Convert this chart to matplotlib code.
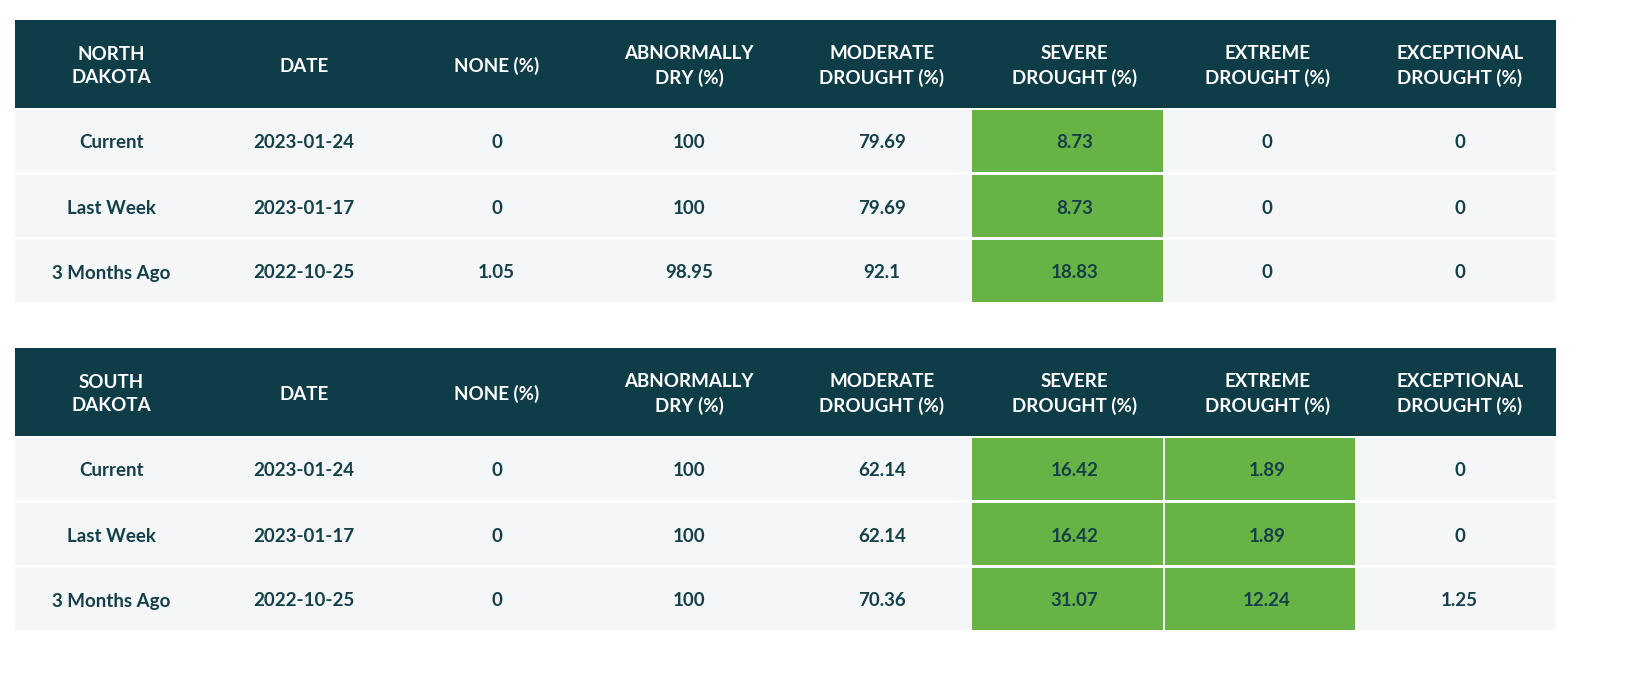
import matplotlib.pyplot as plt
from matplotlib.patches import Rectangle

plt.rcParams['font.family'] = ['Lato', 'DejaVu Sans']

HEADER_BG = "#0f3d47"
ROW_BG = "#f4f6f7"
GREEN = "#68b345"
TEXT = "#15404a"

columns = ["DATE", "NONE (%)", "ABNORMALLY\nDRY (%)", "MODERATE\nDROUGHT (%)",
           "SEVERE\nDROUGHT (%)", "EXTREME\nDROUGHT (%)", "EXCEPTIONAL\nDROUGHT (%)"]
periods = ["Current", "Last Week", "3 Months Ago"]
dates = ["2023-01-24", "2023-01-17", "2022-10-25"]

nd_values = [["0", "100", "79.69", "8.73", "0", "0"],
             ["0", "100", "79.69", "8.73", "0", "0"],
             ["1.05", "98.95", "92.1", "18.83", "0", "0"]]
sd_values = [["0", "100", "62.14", "16.42", "1.89", "0"],
             ["0", "100", "62.14", "16.42", "1.89", "0"],
             ["0", "100", "70.36", "31.07", "12.24", "1.25"]]

nd_green = [5]  # column index of highlighted cells
sd_green = [5, 6]


def draw_table(ax, top, state, values, green_cols):
    """Draw one drought table starting at pixel row top."""
    left, right = 15, 1556
    colw = (right - left) / 8
    ax.add_patch(Rectangle((left, top), right - left, 88, color=HEADER_BG, lw=0))
    heads = [state] + columns
    for i, h in enumerate(heads):
        ax.text(left + colw * (i + 0.5), top + 46, h, color="white", fontsize=13.5,
                fontweight="bold", ha="center", va="center", linespacing=1.4)
    for r in range(3):
        y0 = top + 90 + r * 65
        ax.add_patch(Rectangle((left, y0), right - left, 62, color=ROW_BG, lw=0))
        cells = [periods[r], dates[r]] + values[r]
        for c, val in enumerate(cells):
            if c in green_cols:
                ax.add_patch(Rectangle((left + colw * c - 6, y0), colw - 2, 62,
                                       color=GREEN, lw=0))
            ax.text(left + colw * (c + 0.5), y0 + 33, val, color=TEXT, fontsize=13.5,
                    fontweight="bold", ha="center", va="center")


fig = plt.figure(figsize=(16.26, 6.74), dpi=100)
ax = fig.add_axes([0, 0, 1, 1])
ax.set_xlim(0, 1626)
ax.set_ylim(674, 0)
ax.axis("off")

draw_table(ax, 20, "NORTH\nDAKOTA", nd_values, nd_green)
draw_table(ax, 348, "SOUTH\nDAKOTA", sd_values, sd_green)

fig.savefig("out.png", dpi=100)
plt.close(fig)
